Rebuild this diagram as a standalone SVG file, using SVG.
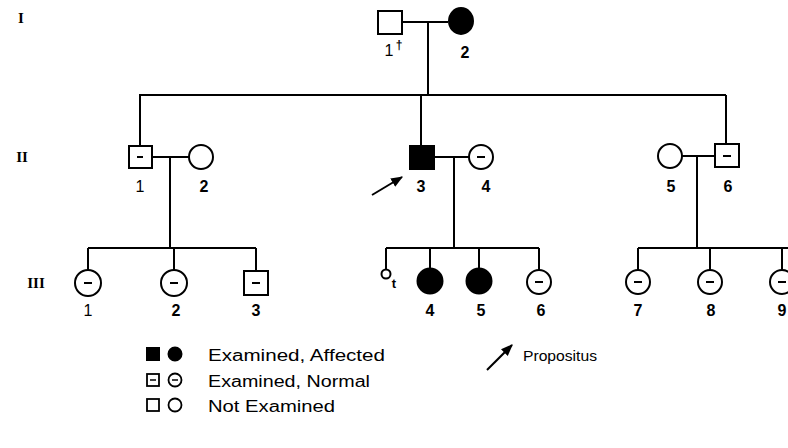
<svg xmlns="http://www.w3.org/2000/svg" width="788" height="448" viewBox="0 0 788 448">
<defs>
<style>
.ln{stroke:#000;stroke-width:2;fill:none}
.sq{stroke:#000;stroke-width:2;fill:#fff}
.ci{stroke:#000;stroke-width:2;fill:#fff}
.aff{fill:#000;stroke:#000;stroke-width:2}
.dash{stroke:#000;stroke-width:2}
.lbl{font-family:"Liberation Sans",Arial,sans-serif;font-size:16px;font-weight:bold;fill:#000;text-anchor:middle}
.thin{font-weight:normal}
.rom{font-family:"Liberation Serif","Times New Roman",serif;font-size:15px;font-weight:bold;fill:#000;text-anchor:middle}
.leg{font-family:"Liberation Sans",Arial,sans-serif;font-size:16px;fill:#000}
</style>
<marker id="ah" viewBox="0 0 10 10" refX="9" refY="5" markerWidth="6" markerHeight="6" orient="auto" markerUnits="strokeWidth">
<path d="M0,1 L10,5 L0,9 z" fill="#000"/>
</marker>
</defs>
<rect width="788" height="448" fill="#fff"/>

<!-- generation labels -->
<text class="rom" x="21" y="23">I</text>
<text class="rom" x="22" y="162">II</text>
<text class="rom" x="36" y="288">III</text>

<g id="connectors">
<!-- gen I marriage and descent -->
<line class="ln" x1="402" y1="22" x2="448" y2="22"/>
<line class="ln" x1="428" y1="22" x2="428" y2="95"/>
<line class="ln" x1="139" y1="95" x2="726" y2="95"/>
<line class="ln" x1="140" y1="95" x2="140" y2="146"/>
<line class="ln" x1="421" y1="95" x2="421" y2="146"/>
<line class="ln" x1="726" y1="95" x2="726" y2="144"/>
<!-- II-1 x II-2 -->
<line class="ln" x1="152" y1="157" x2="189" y2="157"/>
<line class="ln" x1="170" y1="157" x2="170" y2="248"/>
<line class="ln" x1="88" y1="248" x2="256" y2="248"/>
<line class="ln" x1="88" y1="248" x2="88" y2="270"/>
<line class="ln" x1="174" y1="248" x2="174" y2="270"/>
<line class="ln" x1="256" y1="248" x2="256" y2="271"/>
<!-- II-3 x II-4 -->
<line class="ln" x1="434" y1="157" x2="469" y2="157"/>
<line class="ln" x1="454" y1="157" x2="454" y2="248"/>
<line class="ln" x1="386" y1="248" x2="539" y2="248"/>
<line class="ln" x1="386" y1="248" x2="386" y2="270"/>
<line class="ln" x1="430" y1="248" x2="430" y2="268"/>
<line class="ln" x1="479" y1="248" x2="479" y2="268"/>
<line class="ln" x1="539" y1="248" x2="539" y2="270"/>
<!-- II-5 x II-6 -->
<line class="ln" x1="682" y1="156" x2="715" y2="156"/>
<line class="ln" x1="697" y1="156" x2="697" y2="248"/>
<line class="ln" x1="638" y1="248" x2="790" y2="248"/>
<line class="ln" x1="638" y1="248" x2="638" y2="270"/>
<line class="ln" x1="710" y1="248" x2="710" y2="270"/>
<line class="ln" x1="782" y1="248" x2="782" y2="270"/>
<!-- propositus arrow -->
<line class="ln" x1="372" y1="195" x2="402" y2="177" marker-end="url(#ah)"/>
</g>

<g id="I-1">
<rect class="sq" x="378" y="11" width="24" height="23"/>
<text class="lbl thin" x="389" y="56">1</text>
<text class="lbl" x="399" y="49" style="font-size:12px">†</text>
</g>
<g id="I-2">
<ellipse class="aff" cx="461" cy="21" rx="12" ry="13"/>
<text class="lbl" x="465" y="58">2</text>
</g>

<g id="II-1">
<rect class="sq" x="129" y="146" width="23" height="22"/>
<line class="dash" x1="137" y1="157" x2="143" y2="157"/>
<text class="lbl thin" x="140" y="192">1</text>
</g>
<g id="II-2">
<circle class="ci" cx="201" cy="157" r="12"/>
<text class="lbl" x="204" y="192">2</text>
</g>
<g id="II-3">
<rect class="aff" x="410" y="146" width="24" height="23"/>
<text class="lbl" x="421" y="192">3</text>
</g>
<g id="II-4">
<circle class="ci" cx="481" cy="157" r="12"/>
<line class="dash" x1="477" y1="157" x2="485" y2="157"/>
<text class="lbl" x="486" y="192">4</text>
</g>
<g id="II-5">
<circle class="ci" cx="670" cy="156" r="12"/>
<text class="lbl" x="671" y="192">5</text>
</g>
<g id="II-6">
<rect class="sq" x="715" y="144" width="24" height="23"/>
<line class="dash" x1="723" y1="156" x2="731" y2="156"/>
<text class="lbl" x="728" y="192">6</text>
</g>

<g id="III-1">
<circle class="ci" cx="88" cy="283" r="13"/>
<line class="dash" x1="84" y1="283" x2="92" y2="283"/>
<text class="lbl thin" x="88" y="316">1</text>
</g>
<g id="III-2">
<circle class="ci" cx="174" cy="283" r="13"/>
<line class="dash" x1="170" y1="283" x2="178" y2="283"/>
<text class="lbl" x="176" y="316">2</text>
</g>
<g id="III-3">
<rect class="sq" x="244" y="271" width="24" height="24"/>
<line class="dash" x1="252" y1="283" x2="260" y2="283"/>
<text class="lbl" x="256" y="316">3</text>
</g>
<g id="III-t">
<circle class="ci" cx="386" cy="274" r="4.5"/>
<text class="lbl" x="394" y="288" style="font-size:13px">t</text>
</g>
<g id="III-4">
<circle class="aff" cx="430" cy="281" r="12.5"/>
<text class="lbl" x="430" y="316">4</text>
</g>
<g id="III-5">
<circle class="aff" cx="479" cy="281" r="12.5"/>
<text class="lbl" x="481" y="316">5</text>
</g>
<g id="III-6">
<circle class="ci" cx="539" cy="282" r="12"/>
<line class="dash" x1="535" y1="282" x2="543" y2="282"/>
<text class="lbl" x="541" y="316">6</text>
</g>
<g id="III-7">
<circle class="ci" cx="638" cy="282" r="12"/>
<line class="dash" x1="634" y1="282" x2="642" y2="282"/>
<text class="lbl" x="638" y="316">7</text>
</g>
<g id="III-8">
<circle class="ci" cx="710" cy="282" r="12"/>
<line class="dash" x1="706" y1="282" x2="714" y2="282"/>
<text class="lbl" x="711" y="316">8</text>
</g>
<g id="III-9">
<circle class="ci" cx="782" cy="282" r="12"/>
<line class="dash" x1="778" y1="282" x2="786" y2="282"/>
<text class="lbl" x="782" y="316">9</text>
</g>

<g id="legend">
<rect class="aff" x="147" y="348" width="12" height="12"/>
<circle class="aff" cx="175" cy="354" r="6.5"/>
<text class="leg" x="208" y="361" textLength="177" lengthAdjust="spacingAndGlyphs">Examined, Affected</text>
<rect class="sq" x="147" y="374" width="12" height="12" style="stroke-width:1.8"/>
<line class="dash" x1="150" y1="380" x2="156" y2="380" style="stroke-width:1.5"/>
<circle class="ci" cx="175" cy="380" r="6.5" style="stroke-width:1.8"/>
<line class="dash" x1="172" y1="380" x2="178" y2="380" style="stroke-width:1.5"/>
<text class="leg" x="208" y="387" textLength="162" lengthAdjust="spacingAndGlyphs">Examined, Normal</text>
<rect class="sq" x="147" y="399" width="12" height="12" style="stroke-width:1.8"/>
<circle class="ci" cx="175" cy="405" r="6.5" style="stroke-width:1.8"/>
<text class="leg" x="208" y="412" textLength="127" lengthAdjust="spacingAndGlyphs">Not Examined</text>
<line class="ln" x1="487" y1="370" x2="512" y2="345" marker-end="url(#ah)"/>
<text class="leg" x="523" y="361" textLength="74" lengthAdjust="spacingAndGlyphs" style="font-size:15px">Propositus</text>
</g>
</svg>
